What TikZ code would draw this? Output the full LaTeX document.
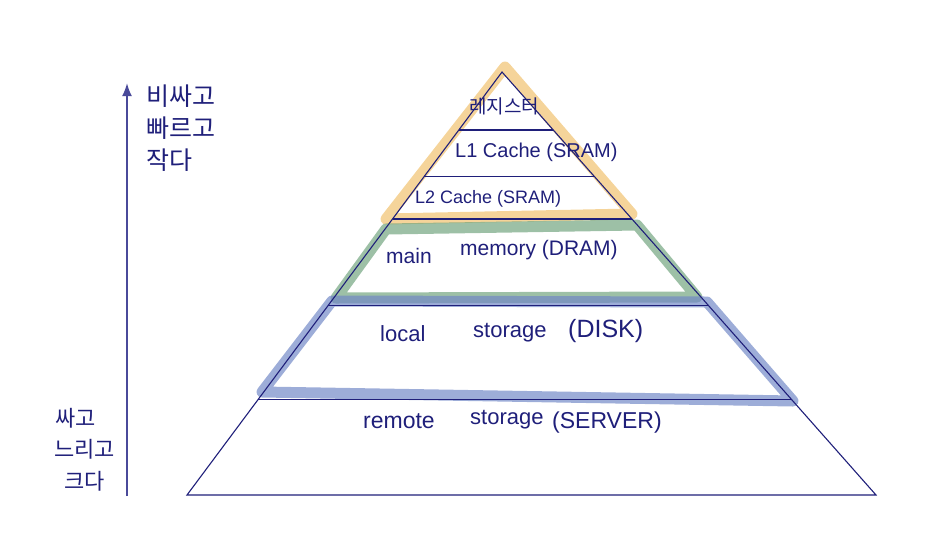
\documentclass[tikz,border=0pt]{standalone}
\usepackage{fontspec}
\setmainfont{Liberation Sans}
\newfontfamily\kr{Noto Sans CJK KR}
\usetikzlibrary{arrows.meta,calc}
\definecolor{ink}{HTML}{1F1F7A}
\definecolor{arrowink}{HTML}{4A4A9A}
\definecolor{hlyellow}{HTML}{F0C06A}
\definecolor{hlgreen}{HTML}{6FA27C}
\definecolor{hlblue}{HTML}{6F86C6}
\tikzset{
  thin line/.style={draw=ink, line width=1.1pt},
  highlight/.style={line width=11pt, line join=round, line cap=round, opacity=0.68},
  label/.style={text=ink, inner sep=0pt, anchor=west, font=\fontsize{22}{24}\selectfont},
  krlabel/.style={text=ink, inner sep=0pt, anchor=west, font=\kr\fontsize{25}{28}\selectfont},
}
\begin{document}
\begin{tikzpicture}[x=1pt,y=-1pt]
\useasboundingbox (0,0) rectangle (937,547);
% highlights
\draw[highlight, draw=hlyellow] (505,67) -- (632,214) -- (386,219) -- cycle;
\draw[highlight, draw=hlgreen] (386,229) -- (637,225) -- (697,297) -- (336,298) -- cycle;
\draw[highlight, draw=hlblue] (332,301) -- (707,302) -- (793,401) -- (262,392) -- cycle;
% pyramid
\coordinate (apex) at (502,72);
\coordinate (bl) at (187,495);
\coordinate (br) at (876,495);
\draw[thin line] (apex) -- (bl) -- (br) -- cycle;
\foreach \t/\n in {0.137/a,0.248/b,0.3475/c,0.551/d,0.775/e}{
  \coordinate (l\n) at ($(apex)!\t!(bl)$);
  \coordinate (r\n) at ($(apex)!\t!(br)$);
  \draw[thin line] (l\n) -- (r\n);
}
% arrow
\coordinate (arrowbot) at (127,496);
\coordinate (arrowtop) at (127,83);
\draw[draw=arrowink, line width=2pt, -{Latex[length=13pt,width=10pt]}] (arrowbot) -- (arrowtop);
% side labels
\node[krlabel] (t1) at (146,96) {비싸고};
\node[krlabel] (t2) at (146,128) {빠르고};
\node[krlabel] (t3) at (146,160) {작다};
\node[krlabel, font=\kr\fontsize{22}{24}\selectfont] (b1) at (55,418) {싸고};
\node[krlabel, font=\kr\fontsize{22}{24}\selectfont] (b2) at (54,449) {느리고};
\node[krlabel, font=\kr\fontsize{22}{24}\selectfont] (b3) at (64,481) {크다};
% level labels
\node[text=ink, inner sep=0pt, font=\kr\fontsize{19}{22}\selectfont] (reg) at (504,106) {레지스터};
\node[label, font=\fontsize{20}{22}\selectfont] (l1) at (455,152) {L1 Cache (SRAM)};
\node[label, font=\fontsize{18}{20}\selectfont] (l2) at (415,199) {L2 Cache (SRAM)};
\node[label, font=\fontsize{21}{24}\selectfont] (mm1) at (386,256) {main};
\node[label, font=\fontsize{21}{24}\selectfont] (mm2) at (460,250) {memory (DRAM)};
\node[label] (ls1) at (380,334) {local};
\node[label] (ls2) at (473,333) {storage};
\node[label, font=\fontsize{25}{28}\selectfont] (ls3) at (568,331) {(DISK)};
\node[label, font=\fontsize{23}{26}\selectfont] (rs1) at (363,421) {remote};
\node[label] (rs2) at (470,420) {storage};
\node[label, font=\fontsize{23}{26}\selectfont] (rs3) at (552,423) {(SERVER)};
\end{tikzpicture}
\end{document}
